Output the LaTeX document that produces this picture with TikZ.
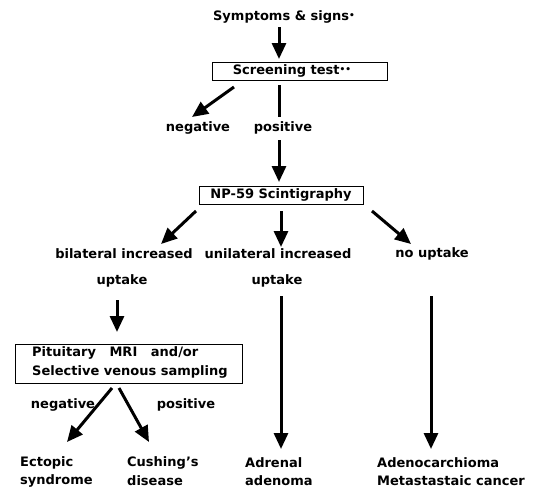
\documentclass[tikz,border=0pt]{standalone}
\usepackage{fontspec}
\setmainfont{DejaVu Sans}
\usetikzlibrary{arrows.meta}
\tikzset{
  lbl/.style={font=\bfseries\fontsize{13}{15}\selectfont, inner sep=0pt},
  lbll/.style={lbl, anchor=west},
  boxx/.style={draw, line width=0.7pt},
  arr/.style={line width=3pt, -{Triangle[length=16pt,width=14pt]}},
  ln/.style={line width=3pt}
}
\newcommand{\dotsup}{\raisebox{2.5pt}{\fontsize{9}{9}\selectfont•}}
\begin{document}
\begin{tikzpicture}[x=1pt,y=-1pt]
\useasboundingbox (0,0) rectangle (552,488);
% top
\node[lbl] (sym) at (284,17) {Symptoms \& signs\dotsup};
\draw[boxx] (212,62) rectangle (387,80);
\node[lbl] (scr) at (292,71) {Screening test\dotsup\dotsup};
\coordinate (a1s) at (279,27); \coordinate (a1e) at (279,59);
\draw[arr] (a1s) -- (a1e);
\node[lbl] (neg1) at (198,128) {negative};
\node[lbl] (pos1) at (283,128) {positive};
\coordinate (n1s) at (234,87); \coordinate (n1e) at (192,117);
\draw[arr] (n1s) -- (n1e);
\coordinate (p1s) at (279,85); \coordinate (p1e) at (279,117);
\draw[ln] (p1s) -- (p1e);
\coordinate (p2s) at (279,140); \coordinate (p2e) at (279,182);
\draw[arr] (p2s) -- (p2e);
% NP-59
\draw[boxx] (199,186) rectangle (363,204);
\node[lbl] (np) at (281,195) {NP-59 Scintigraphy};
\coordinate (l1s) at (196,211); \coordinate (l1e) at (161,244);
\draw[arr] (l1s) -- (l1e);
\coordinate (m1s) at (281,211); \coordinate (m1e) at (281,247);
\draw[arr] (m1s) -- (m1e);
\coordinate (r1s) at (372,211); \coordinate (r1e) at (411,244);
\draw[arr] (r1s) -- (r1e);
\node[lbl] (bil) at (124,254) {bilateral increased};
\node[lbl] (bilu) at (122,281) {uptake};
\node[lbl] (uni) at (278,254) {unilateral increased};
\node[lbl] (uniu) at (277,281) {uptake};
\node[lbl] (nou) at (432,254) {no uptake};
% left branch
\coordinate (b1s) at (117,300); \coordinate (b1e) at (117,332);
\draw[arr] (b1s) -- (b1e);
\draw[boxx] (15,344) rectangle (242,383);
\node[lbll] (pit1) at (32,353) {Pituitary~~ MRI~~ and/or};
\node[lbll] (pit2) at (32,372) {Selective venous sampling};
\node[lbl] (neg2) at (63,405) {negative};
\node[lbl] (pos2) at (186,405) {positive};
\coordinate (v1s) at (112,388); \coordinate (v1e) at (67,442);
\draw[arr] (v1s) -- (v1e);
\coordinate (v2s) at (119,388); \coordinate (v2e) at (149,442);
\draw[arr] (v2s) -- (v2e);
% long arrows
\coordinate (m2s) at (281,296); \coordinate (m2e) at (281,449);
\draw[arr] (m2s) -- (m2e);
\coordinate (r2s) at (431,296); \coordinate (r2e) at (431,449);
\draw[arr] (r2s) -- (r2e);
% bottom
\node[lbll] (ect1) at (20,463) {Ectopic};
\node[lbll] (ect2) at (20,481) {syndrome};
\node[lbll] (cus1) at (127,463) {Cushing's};
\node[lbll] (cus2) at (127,481) {disease};
\node[lbll] (adr1) at (245,463) {Adrenal};
\node[lbll] (adr2) at (245,481) {adenoma};
\node[lbll] (ade1) at (377,463) {Adenocarchioma};
\node[lbll] (ade2) at (377,481) {Metastastaic cancer};
\end{tikzpicture}
\end{document}
